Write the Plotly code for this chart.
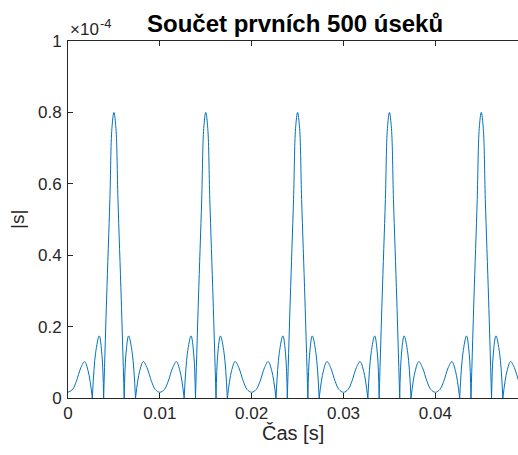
import plotly.graph_objects as go

# Values (|s| in units of 1e-4, time in s)
peak_times = [0.005, 0.015, 0.025, 0.035, 0.045]
# main lobe (offset from peak, value), right half
main_off = [0.0, 0.00022, 0.00044, 0.0008, 0.00112]
main_val = [0.80, 0.755, 0.556, 0.275, 0.0]
# first side lobe
side_off = [0.00112, 0.0013, 0.0016, 0.002, 0.00235]
side_val = [0.0, 0.12, 0.174, 0.125, 0.0]
# valley lobe towards mid-period
valley_off = [0.00235, 0.0028, 0.0032, 0.0036, 0.0041, 0.0045, 0.005]
valley_val = [0.0, 0.075, 0.102, 0.085, 0.046, 0.024, 0.016]

xs, ys = [], []

def add_seg(t, v):
    xs.extend(t + [None])
    ys.extend(v + [None])

# leading valley before first peak
p0 = peak_times[0]
add_seg([p0 - o for o in valley_off[::-1]], valley_val[::-1])
for i, p in enumerate(peak_times):
    add_seg([p - o for o in side_off[::-1]], side_val[::-1])
    add_seg([p - o for o in main_off[::-1]] + [p + o for o in main_off[1:]],
            main_val[::-1] + main_val[1:])
    add_seg([p + o for o in side_off], side_val)
    if i < len(peak_times) - 1:
        q = peak_times[i + 1]
        add_seg([p + o for o in valley_off] + [q - o for o in valley_off[::-1][1:]],
                valley_val + valley_val[::-1][1:])
    else:
        add_seg([p + o for o in valley_off], valley_val)

x_ticks = [0, 0.01, 0.02, 0.03, 0.04]
x_ticklabels = ["0", "0.01", "0.02", "0.03", "0.04"]
y_ticks = [0, 0.2, 0.4, 0.6, 0.8, 1]
y_ticklabels = ["0", "0.2", "0.4", "0.6", "0.8", "1"]

ink = "#262626"
font = "Liberation Sans, Arial, Helvetica, sans-serif"

fig = go.Figure()
fig.add_trace(go.Scatter(
    x=xs, y=ys, mode="lines", connectgaps=False,
    line=dict(color="#0072BD", width=1, shape="spline", smoothing=1.0),
    hoverinfo="skip", showlegend=False,
))

fig.update_layout(
    width=518, height=455,
    margin=dict(l=68, r=0, t=41, b=57),
    paper_bgcolor="white", plot_bgcolor="white",
    font=dict(family=font, size=17, color=ink),
    showlegend=False,
)
fig.update_xaxes(
    range=[0, 0.049], tickvals=x_ticks, ticktext=x_ticklabels,
    showgrid=False, zeroline=False, showline=True, linecolor=ink, linewidth=1,
    mirror="ticks", ticks="inside", ticklen=5, tickcolor=ink,
    tickfont=dict(size=17, color=ink),
)
fig.update_yaxes(
    range=[0, 1], tickvals=y_ticks, ticktext=y_ticklabels,
    showgrid=False, zeroline=False, showline=True, linecolor=ink, linewidth=1,
    mirror=False, ticks="inside", ticklen=5, tickcolor=ink,
    tickfont=dict(size=17, color=ink), ticklabelstandoff=2,
)

fig.add_annotation(text="<b>Součet prvních 500 úseků</b>", xref="paper", yref="paper",
                   x=0.504, y=1, yanchor="bottom", xanchor="center", yshift=2,
                   showarrow=False, font=dict(size=24, color="black", family=font))
fig.add_annotation(text="×10", xref="paper", yref="paper",
                   x=0, y=1, xanchor="left", yanchor="bottom", yshift=0,
                   showarrow=False, font=dict(size=17, color=ink, family=font))
fig.add_annotation(text="-4", xref="paper", yref="paper",
                   x=0, y=1, xanchor="left", yanchor="bottom", xshift=30, yshift=8,
                   showarrow=False, font=dict(size=13, color=ink, family=font))
fig.add_annotation(text="Čas [s]", xref="paper", yref="paper",
                   x=0.5, y=0, xanchor="center", yanchor="top", yshift=-22,
                   showarrow=False, font=dict(size=20, color=ink, family=font))
fig.add_annotation(text="|s|", xref="paper", yref="paper",
                   x=0, y=0.5, xanchor="right", yanchor="middle", xshift=-38,
                   textangle=-90, showarrow=False,
                   font=dict(size=19, color=ink, family=font))

fig.write_html("out.html")
